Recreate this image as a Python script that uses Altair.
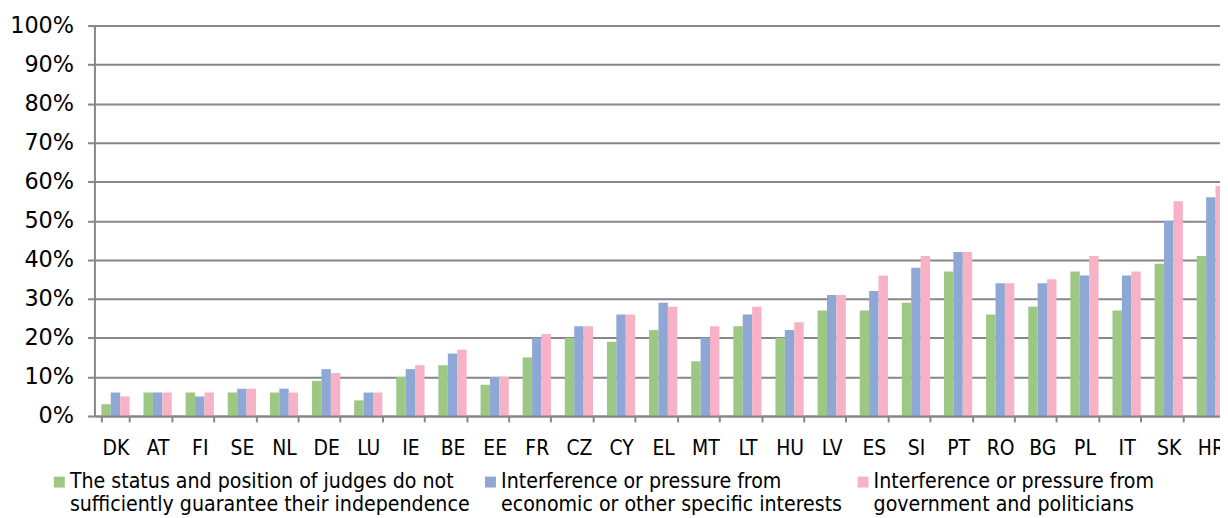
import altair as alt
import pandas as pd

countries = ["DK", "AT", "FI", "SE", "NL", "DE", "LU", "IE", "BE", "EE", "FR", "CZ", "CY", "EL",
             "MT", "LT", "HU", "LV", "ES", "SI", "PT", "RO", "BG", "PL", "IT", "SK", "HR"]
status_pct = [3, 6, 6, 6, 6, 9, 4, 10, 13, 8, 15, 20, 19, 22, 14, 23, 20, 27, 27, 29, 37, 26, 28, 37, 27, 39, 41]
economic_pct = [6, 6, 5, 7, 7, 12, 6, 12, 16, 10, 20, 23, 26, 29, 20, 26, 22, 31, 32, 38, 42, 34, 34, 36, 36, 50, 56]
government_pct = [5, 6, 6, 7, 6, 11, 6, 13, 17, 10, 21, 23, 26, 28, 23, 28, 24, 31, 36, 41, 42, 34, 35, 41, 37, 55, 59]

series = [
    "The status and position of judges do not|sufficiently guarantee their independence",
    "Interference or pressure from|economic or other specific interests",
    "Interference or pressure from|government and politicians",
]
colors = ["#9dc883", "#8ea8d5", "#f7b2c5"]
y_ticks = [0, 0.1, 0.2, 0.3, 0.4, 0.5, 0.6, 0.7, 0.8, 0.9, 1.0]

rows = []
for s, vals in zip(series, [status_pct, economic_pct, government_pct]):
    for c, v in zip(countries, vals):
        rows.append({"country": c, "series": s, "value": v / 100})
df = pd.DataFrame(rows)

grey = "#878787"
narrow = "DejaVu Sans Condensed, DejaVu Sans, sans-serif"

chart = alt.Chart(df).mark_bar(clip=True).encode(
    x=alt.X(
        "country:N", sort=countries, title=None,
        scale=alt.Scale(range=[0, 1145], paddingInner=0.33, paddingOuter=0.165),
        axis=alt.Axis(labelAngle=0, tickBand="extent", domainColor=grey, domainWidth=2,
                      tickColor=grey, tickWidth=2, tickSize=6, labelFont=narrow,
                      labelFontSize=21, labelColor="black", labelPadding=16, grid=False,
                      zindex=1),
    ),
    xOffset=alt.XOffset("series:N", sort=series, scale=alt.Scale(paddingInner=0, paddingOuter=0)),
    y=alt.Y(
        "value:Q", title=None, scale=alt.Scale(domain=[0, 1], nice=False),
        axis=alt.Axis(values=y_ticks, format=".0%", domainColor=grey, domainWidth=2,
                      tickColor=grey, tickWidth=2, tickSize=7, gridColor=grey, gridWidth=2,
                      labelFont="DejaVu Sans", labelFontSize=22.5, labelColor="black",
                      labelPadding=14),
    ),
    color=alt.Color(
        "series:N", sort=series, scale=alt.Scale(domain=series, range=colors),
        legend=alt.Legend(title=None, orient="none", legendX=-46, legendY=454, padding=0,
                          direction="horizontal", columns=3, columnPadding=10,
                          symbolType="M-1,-2H1V0H-1Z", symbolSize=121, symbolStrokeWidth=0,
                          symbolOpacity=1, labelFont=narrow, labelFontSize=21.3,
                          labelColor="black", labelLimit=700, labelOffset=0,
                          labelBaseline="alphabetic",
                          labelExpr="split(datum.label, '|')"),
    ),
).properties(
    width=1133, height=393,
    autosize=alt.AutoSizeParams(type="none"),
    padding={"left": 87, "top": 16, "right": 0, "bottom": 101},
).configure_view(stroke=None)

chart.save("out.html", embed_options={"renderer": "svg", "actions": False})
